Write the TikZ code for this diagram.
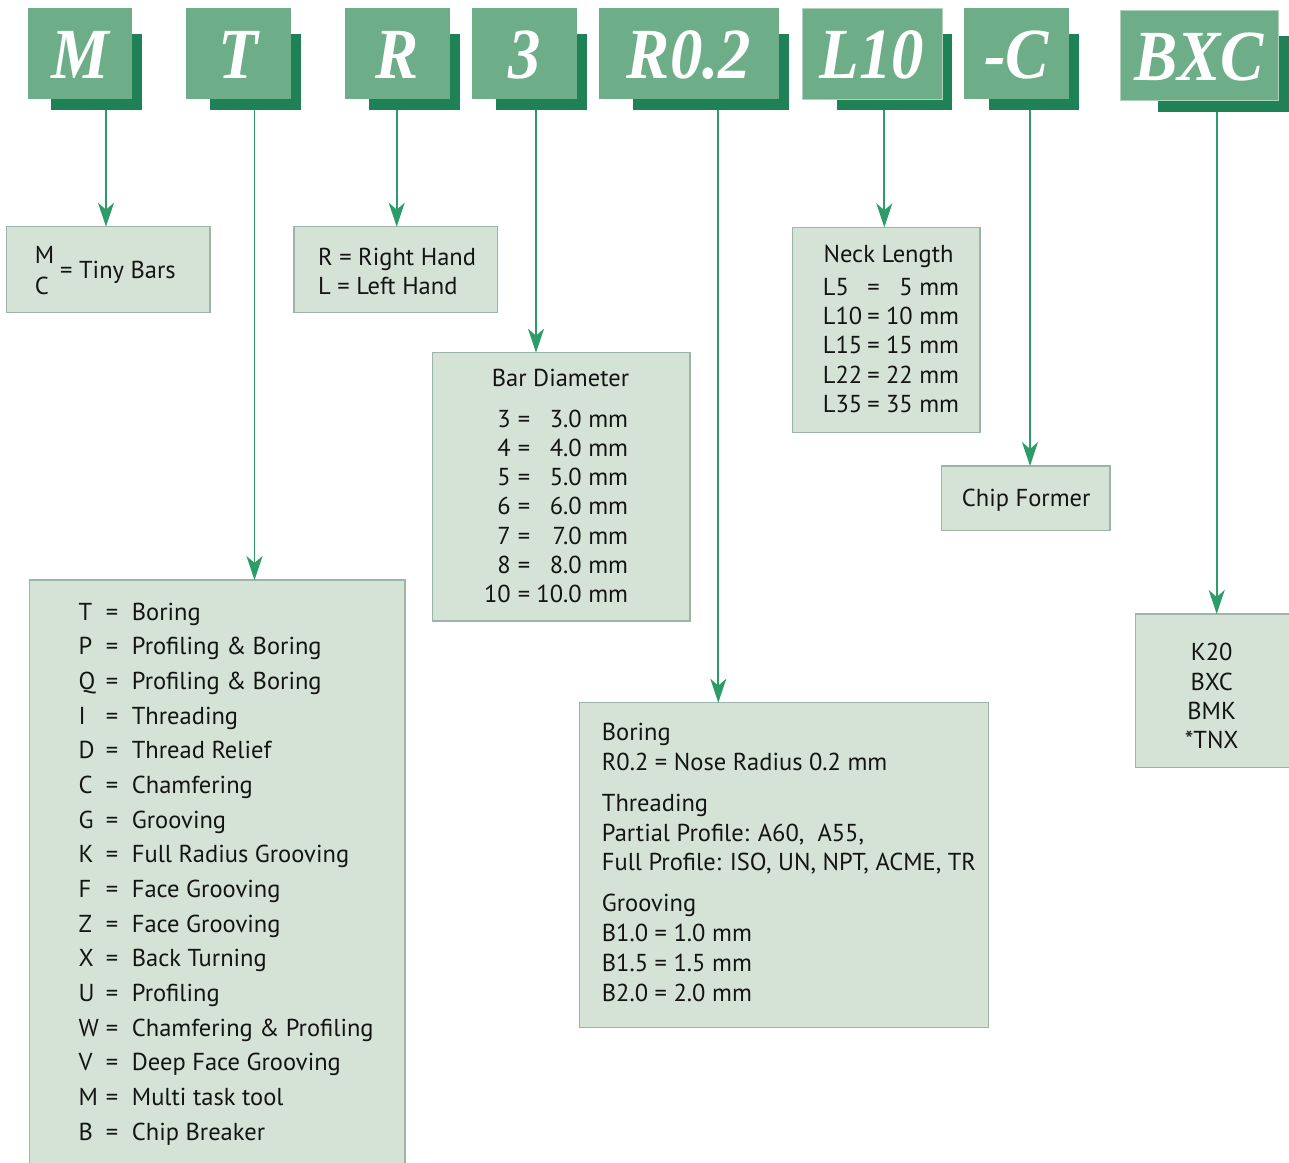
\documentclass[tikz,border=0pt]{standalone}
\usepackage{fontspec}
\setmainfont{PT Sans}
\newfontfamily\hdrfont[FakeStretch=0.9]{Liberation Serif}
\usetikzlibrary{arrows.meta}
\definecolor{hdrlight}{HTML}{6DAE88}
\definecolor{hdrdark}{HTML}{1F8256}
\definecolor{boxfill}{HTML}{D5E3D6}
\definecolor{boxdraw}{HTML}{9CB4AA}
\definecolor{arrowc}{HTML}{2E9C68}
\definecolor{ink}{HTML}{141414}
\begin{document}
\begin{tikzpicture}[x=1pt,y=-1pt,
  shadowbox/.style={rectangle,fill=hdrdark,inner sep=0,outer sep=0,anchor=north west},
  hdrbox/.style={rectangle,fill=hdrlight,inner sep=0,outer sep=0,anchor=north west},
  hdrtext/.style={font=\hdrfont\bfseries\itshape\fontsize{72}{72}\selectfont,text=white,inner sep=0,anchor=base},
  infobox/.style={rectangle,fill=boxfill,draw=boxdraw,line width=1.5pt,inner sep=0,outer sep=0,anchor=north west},
  txt/.style={font=\fontsize{24.5}{29}\selectfont,text=ink,inner sep=0,anchor=base west},
  arr/.style={draw=arrowc,line width=1.8pt,-{Stealth[length=24pt,width=16pt,inset=7pt]}}]
\useasboundingbox (0,0) rectangle (1289,1162);
\clip (0,0) rectangle (1289,1162);
\fill[white] (0,0) rectangle (1289,1162);

% header tiles
\foreach \n/\lx/\rx/\sx/\t in {M/28/132/51/M, T/186/291/210/T, R/345/450/369/R, D/472/577/496/3, N/599/779/633/R0.2, L/802/942/836.7/L10, C/964/1069/989/-C}{
  \node[shadowbox,minimum width={\rx+10-\sx},minimum height=76] (s\n) at (\sx,34) {};
  \node[hdrbox,minimum width={\rx-\lx},minimum height=91] (h\n) at (\lx,8) {};
  \node[hdrtext] (t\n) at ({(\lx+\rx)/2},78) {\t};
}
\node[shadowbox,minimum width=140,minimum height=76] (sB) at (1158,36) {};
\node[hdrbox,minimum width=158,minimum height=90] (hB) at (1120,10) {};
\node[hdrtext] (tB) at (1199,80) {BXC};
\draw[hdrlight!55!white,line width=1pt] (hL.north west) rectangle (hL.south east);
\draw[hdrlight!55!white,line width=1pt] (hB.north west) rectangle (hB.south east);

% info boxes
\node[infobox,minimum width=203.3,minimum height=86] (bM) at (6.7,226.7) {};
\node[infobox,minimum width=203.7,minimum height=86] (bR) at (294,226.7) {};
\node[infobox,minimum width=257.3,minimum height=268.3] (bD) at (432.7,352.7) {};
\node[infobox,minimum width=187.3,minimum height=205.4] (bL) at (792.7,227.3) {};
\node[infobox,minimum width=168.3,minimum height=64.7] (bC) at (941.7,466) {};
\node[infobox,minimum width=375.7,minimum height=600] (bT) at (29.3,580) {};
\node[infobox,minimum width=409,minimum height=325] (bN) at (579.3,702.7) {};
\node[infobox,minimum width=170,minimum height=153.3] (bB) at (1135.3,614) {};

% connectors
\draw[arr] (106,0 |- sM.south) -- (106,0 |- bM.north);
\draw[arr] (254.5,0 |- sT.south) -- (254.5,0 |- bT.north);
\draw[arr] (396.7,0 |- sR.south) -- (396.7,0 |- bR.north);
\draw[arr] (536,0 |- sD.south) -- (536,0 |- bD.north);
\draw[arr] (718.3,0 |- sN.south) -- (718.3,0 |- bN.north);
\draw[arr] (884.3,0 |- sL.south) -- (884.3,0 |- bL.north);
\draw[arr] (1030,0 |- sC.south) -- (1030,0 |- bC.north);
\draw[arr] (1216.7,0 |- sB.south) -- (1216.7,0 |- bB.north);

% M box
\node[txt] (mM) at (34.7,263.3) {M};
\node[txt] (mC) at (34.7,294) {C};
\node[txt] (mT) at (60,278.3) {= Tiny Bars};

% R box
\node[txt] (rR) at (318,265.7) {R = Right Hand};
\node[txt] (rL) at (318,294) {L = Left Hand};

% Bar diameter
\node[txt] (dT) at (491.7,386.7) {Bar Diameter};
\foreach \k/\v [count=\i from 0] in {3/3.0 mm,4/4.0 mm,5/5.0 mm,6/6.0 mm,7/7.0 mm,8/8.0 mm,10/10.0 mm}{
  \node[txt,anchor=base east] (dk\i) at (511,{427.3+29.23*\i}) {\k};
  \node[txt,anchor=base] (de\i) at (524,{427.3+29.23*\i}) {=};
  \node[txt,anchor=base east] (dv\i) at (628.3,{427.3+29.23*\i}) {\v};
}

% Neck length
\node[txt] (lT) at (823.3,262.7) {Neck Length};
\foreach \k/\v [count=\i from 0] in {L5/5 mm,L10/10 mm,L15/15 mm,L22/22 mm,L35/35 mm}{
  \node[txt] (lk\i) at (822.7,{295+29.4*\i}) {\k};
  \node[txt,anchor=base] (le\i) at (873.5,{295+29.4*\i}) {=};
  \node[txt,anchor=base east] (lv\i) at (959.3,{295+29.4*\i}) {\v};
}

% Chip former
\node[txt] (cT) at (961.7,506.7) {Chip Former};

% T list
\foreach \k/\v [count=\i from 0] in {T/Boring,P/Profiling \& Boring,Q/Profiling \& Boring,I/Threading,D/Thread Relief,C/Chamfering,G/Grooving,K/Full Radius Grooving,F/Face Grooving,Z/Face Grooving,X/Back Turning,U/Profiling,W/Chamfering \& Profiling,V/Deep Face Grooving,M/Multi task tool,B/Chip Breaker}{
  \node[txt] (tk\i) at (78.3,{620+34.67*\i}) {\k};
  \node[txt,anchor=base] (te\i) at (112,{620+34.67*\i}) {=};
  \node[txt] (tv\i) at (131.7,{620+34.67*\i}) {\v};
}

% R0.2 box
\node[txt] (n1) at (601.7,740) {Boring};
\node[txt] (n2) at (601.7,770) {R0.2 = Nose Radius 0.2 mm};
\node[txt] (n3) at (601.7,811.7) {Threading};
\node[txt] (n4) at (601.7,841.7) {Partial Profile: A60,\ \ A55,};
\node[txt] (n5) at (601.7,870) {Full Profile: ISO, UN, NPT, ACME, TR};
\node[txt] (n6) at (601.7,911.7) {Grooving};
\node[txt] (n7) at (601.7,941.7) {B1.0 = 1.0 mm};
\node[txt] (n8) at (601.7,971.7) {B1.5 = 1.5 mm};
\node[txt] (n9) at (601.7,1001.7) {B2.0 = 2.0 mm};

% BXC box
\node[txt,anchor=base] (b1) at (1211.7,660.7) {K20};
\node[txt,anchor=base] (b2) at (1211.7,690) {BXC};
\node[txt,anchor=base] (b3) at (1211.7,719.3) {BMK};
\node[txt,anchor=base] (b4) at (1211.7,748.3) {*TNX};
\end{tikzpicture}
\end{document}
